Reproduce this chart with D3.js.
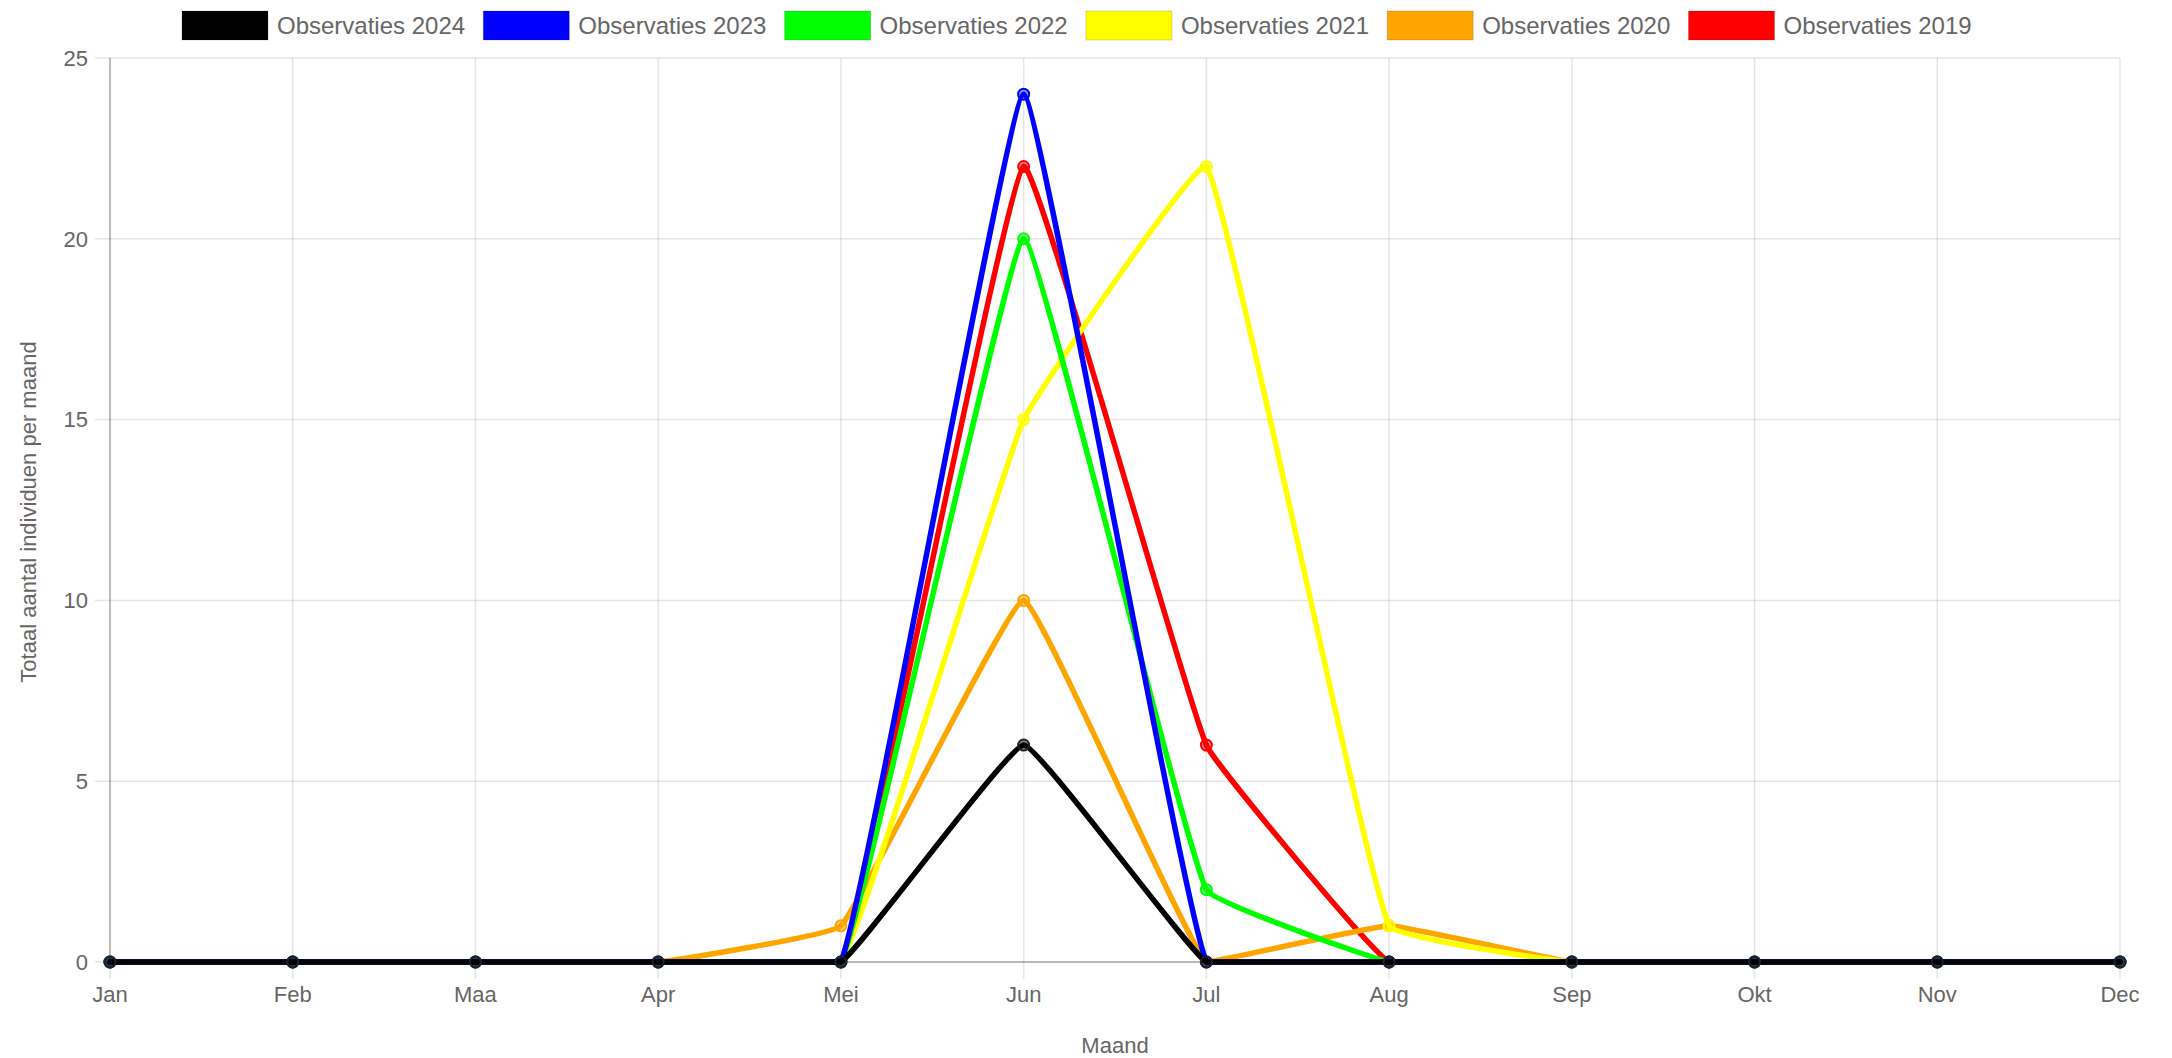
<!DOCTYPE html>
<html>
<head>
<meta charset="utf-8">
<script src="https://cdn.jsdelivr.net/npm/d3@7/dist/d3.min.js"></script>
<style>
  html, body { margin: 0; padding: 0; background: #fff; }
  svg { display: block; font-family: "Liberation Sans", Arial, Helvetica, sans-serif; }
</style>
</head>
<body>
<svg id="chart" width="2172" height="1058"></svg>
<script>
const months = ["Jan","Feb","Maa","Apr","Mei","Jun","Jul","Aug","Sep","Okt","Nov","Dec"];
const seriesNames = ["Observaties 2024","Observaties 2023","Observaties 2022","Observaties 2021","Observaties 2020","Observaties 2019"];
const seriesColors = ["#000000","#0000ff","#00ff00","#ffff00","#ffa500","#ff0000"];
const obs2024 = [0,0,0,0,0,6,0,0,0,0,0,0];
const obs2023 = [0,0,0,0,0,24,0,0,0,0,0,0];
const obs2022 = [0,0,0,0,0,20,2,0,0,0,0,0];
const obs2021 = [0,0,0,0,0,15,22,1,0,0,0,0];
const obs2020 = [0,0,0,0,1,10,0,1,0,0,0,0];
const obs2019 = [0,0,0,0,0,22,6,0,0,0,0,0];
const yTicks = [0,5,10,15,20,25];
const yTitle = "Totaal aantal individuen per maand";
const xTitle = "Maand";

const seriesValues = [obs2024, obs2023, obs2022, obs2021, obs2020, obs2019];

const svg = d3.select("#chart");
const area = {left: 110, right: 2120, top: 58, bottom: 962};
const x = d3.scalePoint().domain(months).range([area.left, area.right]);
const y = d3.scaleLinear().domain([0, 25]).range([area.bottom, area.top]);
const textColor = "#666";

// grid
const g = svg.append("g");
g.selectAll("line.vg").data(months).join("line")
  .attr("x1", d => x(d)).attr("x2", d => x(d))
  .attr("y1", area.top).attr("y2", area.bottom + 17)
  .attr("stroke", "rgba(0,0,0,0.1)").attr("stroke-width", 1.5);
g.selectAll("line.hg").data(yTicks).join("line")
  .attr("x1", area.left - 15).attr("x2", area.right)
  .attr("y1", d => y(d)).attr("y2", d => y(d))
  .attr("stroke", "rgba(0,0,0,0.1)").attr("stroke-width", 1.5);
// axis lines
g.append("line").attr("x1", area.left).attr("x2", area.left).attr("y1", area.top).attr("y2", area.bottom)
  .attr("stroke", "rgba(0,0,0,0.28)").attr("stroke-width", 1.5);
g.append("line").attr("x1", area.left).attr("x2", area.right).attr("y1", area.bottom).attr("y2", area.bottom)
  .attr("stroke", "rgba(0,0,0,0.28)").attr("stroke-width", 1.5);

// tick labels
g.selectAll("text.yt").data(yTicks).join("text")
  .attr("x", area.left - 22).attr("y", d => y(d)).attr("dy", "0.35em")
  .attr("text-anchor", "end").attr("font-size", 22).attr("fill", textColor)
  .text(d => d);
g.selectAll("text.xt").data(months).join("text")
  .attr("x", d => x(d)).attr("y", area.bottom + 32).attr("dy", "0.35em")
  .attr("text-anchor", "middle").attr("font-size", 22).attr("fill", textColor)
  .text(d => d);

// axis titles
svg.append("text").attr("transform", `translate(28,${(area.top + area.bottom) / 2 + 2}) rotate(-90)`)
  .attr("text-anchor", "middle").attr("dy", "0.35em").attr("font-size", 22).attr("fill", textColor)
  .text(yTitle);
svg.append("text").attr("x", (area.left + area.right) / 2).attr("y", 1045).attr("dy", "0.35em")
  .attr("text-anchor", "middle").attr("font-size", 22).attr("fill", textColor)
  .text(xTitle);

// Chart.js-like spline with control points capped to chart area
function splinePath(pts, t) {
  const cps = pts.map((p, i) => {
    const prev = pts[i - 1] || p, next = pts[i + 1] || p;
    const d01 = Math.hypot(p[0] - prev[0], p[1] - prev[1]);
    const d12 = Math.hypot(next[0] - p[0], next[1] - p[1]);
    let s01 = d01 / (d01 + d12), s12 = d12 / (d01 + d12);
    if (isNaN(s01)) s01 = 0; if (isNaN(s12)) s12 = 0;
    const fa = t * s01, fb = t * s12;
    const cap = (q) => [Math.max(area.left, Math.min(area.right, q[0])), Math.max(area.top, Math.min(area.bottom, q[1]))];
    return {
      prev: cap([p[0] - fa * (next[0] - prev[0]), p[1] - fa * (next[1] - prev[1])]),
      next: cap([p[0] + fb * (next[0] - prev[0]), p[1] + fb * (next[1] - prev[1])])
    };
  });
  const path = d3.path();
  path.moveTo(pts[0][0], pts[0][1]);
  for (let i = 1; i < pts.length; i++) {
    const a = cps[i - 1].next, b = cps[i].prev;
    path.bezierCurveTo(a[0], a[1], b[0], b[1], pts[i][0], pts[i][1]);
  }
  return path.toString();
}

// draw series: last dataset first, so first is on top
const order = d3.range(seriesNames.length).reverse();
order.forEach(si => {
  const vals = seriesValues[si];
  const col = seriesColors[si];
  const pts = vals.map((v, i) => [x(months[i]), y(v)]);
  const sg = svg.append("g");
  sg.append("path").attr("d", splinePath(pts, 0.08))
    .attr("fill", "none").attr("stroke", col).attr("stroke-width", 5.5)
    .attr("stroke-linejoin", "round").attr("stroke-linecap", "round");
  sg.selectAll("circle").data(vals).join("circle")
    .attr("cx", (d, i) => x(months[i])).attr("cy", d => y(d)).attr("r", 5.5)
    .attr("fill", d3.color(col).copy({opacity: 0.45}).toString())
    .attr("stroke", si === 0 ? "#222" : col).attr("stroke-width", 2);
});

// legend
const legendX0 = 182, legendStep = 301.3;
const lg = svg.append("g");
seriesNames.forEach((name, i) => {
  const lx = legendX0 + i * legendStep;
  lg.append("rect").attr("x", lx).attr("y", 11).attr("width", 86).attr("height", 29)
    .attr("fill", seriesColors[i]).attr("stroke", "rgba(0,0,0,0.15)").attr("stroke-width", 1);
  lg.append("text").attr("x", lx + 95).attr("y", 26).attr("dy", "0.35em")
    .attr("font-size", 24).attr("fill", textColor).text(name);
});
</script>
</body>
</html>
